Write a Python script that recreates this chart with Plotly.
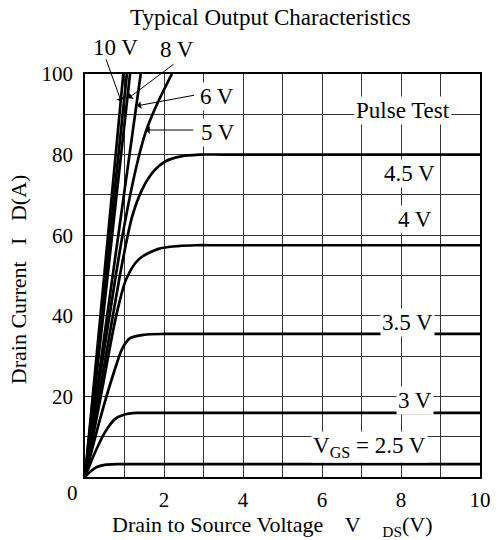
import plotly.graph_objects as go

# ---- data (V_DS in volts, I_D in amperes) ----
vgs_10_v = [0, 0.39, 0.97]
vgs_10_i = [0, 40, 100]
vgs_9_v = [0, 0.42, 1.06]
vgs_9_i = [0, 40, 100]
vgs_8_v = [0, 0.46, 1.14]
vgs_8_i = [0, 40, 100]
vgs_6_v = [0, 0.56, 1.41]
vgs_6_i = [0, 40, 100]
vgs_5_v = [0, 0.30, 0.62, 0.95, 1.30, 1.55, 1.80, 2.20]
vgs_5_i = [0, 20, 40, 60, 77, 86, 92, 100]
vgs_45_v = [0, 0.35, 0.70, 0.94, 1.19, 1.44, 1.75, 2.03, 2.40, 2.90, 3.5, 10]
vgs_45_i = [0, 20, 39.7, 53, 64.5, 71.2, 76, 78.3, 79.5, 80, 80, 80]
vgs_4_v = [0, 0.40, 0.79, 1.04, 1.36, 1.86, 2.36, 2.8, 3.4, 10]
vgs_4_i = [0, 20, 40, 49, 54, 56.6, 57.3, 57.5, 57.5, 57.5]
vgs_35_v = [0, 0.37, 0.70, 0.95, 1.15, 1.50, 2.0, 2.6, 10]
vgs_35_i = [0, 14, 25, 32, 34.5, 35.3, 35.5, 35.5, 35.5]
vgs_3_v = [0, 0.25, 0.50, 0.75, 1.0, 1.3, 1.8, 10]
vgs_3_i = [0, 6, 11, 14.3, 15.5, 15.9, 15.9, 15.9]
vgs_25_v = [0, 0.15, 0.30, 0.50, 0.80, 1.2, 10]
vgs_25_i = [0, 1.5, 2.5, 3.0, 3.2, 3.2, 3.2]

curves = [
    (vgs_10_v, vgs_10_i), (vgs_9_v, vgs_9_i), (vgs_8_v, vgs_8_i),
    (vgs_6_v, vgs_6_i), (vgs_5_v, vgs_5_i), (vgs_45_v, vgs_45_i),
    (vgs_4_v, vgs_4_i), (vgs_35_v, vgs_35_i), (vgs_3_v, vgs_3_i),
    (vgs_25_v, vgs_25_i),
]

x_ticks = [0, 1, 2, 3, 4, 5, 6, 7, 8, 9, 10]
x_tick_text = ["", "", "2", "", "4", "", "6", "", "8", "", "10"]
y_ticks = [0, 10, 20, 30, 40, 50, 60, 70, 80, 90, 100]
y_tick_text = ["", "", "20", "", "40", "", "60", "", "80", "", "100"]

# curve labels inside the plot: (text, V, I)
labels = [
    ("Pulse Test", 8.05, 91.0),
    ("4.5 V", 8.22, 75.3),
    ("4 V", 8.36, 63.9),
    ("3.5 V", 8.16, 38.4),
    ("3 V", 8.36, 19.1),
    ("V<sub>GS</sub> = 2.5 V", 7.2, 7.4),
    ("6 V", 3.33, 94.5),
    ("5 V", 3.37, 85.6),
]
# curve labels above the plot (paper fractions)
top_labels = [
    ("10 V", 0.076, 1.066),
    ("8 V", 0.234, 1.062),
]
# arrows: (head_V, head_I, tail_V, tail_I)
arrows = [
    (0.92, 93.1, 0.52, 104.0),
    (1.10, 94.0, 2.28, 102.7),
    (1.32, 92.1, 2.80, 94.8),
    (1.54, 86.1, 2.78, 86.1),
]

FONT = "Liberation Serif, Times New Roman, serif"

fig = go.Figure()
for vx, iy in curves:
    fig.add_trace(go.Scatter(
        x=vx, y=iy, mode="lines",
        line=dict(color="black", width=2.7, shape="spline", smoothing=0.8),
        showlegend=False, hoverinfo="skip"))

for text, x, y in labels:
    fig.add_annotation(x=x, y=y, xref="x", yref="y", text=text,
                       showarrow=False, bgcolor="white", borderpad=1,
                       xanchor="center", yanchor="middle",
                       font=dict(family=FONT, size=23, color="black"))

for text, x, y in top_labels:
    fig.add_annotation(x=x, y=y, xref="paper", yref="paper", text=text,
                       showarrow=False, xanchor="center", yanchor="middle",
                       font=dict(family=FONT, size=23, color="black"))

for hx, hy, tx, ty in arrows:
    fig.add_annotation(x=hx, y=hy, ax=tx, ay=ty, xref="x", yref="y",
                       axref="x", ayref="y", text="", showarrow=True,
                       arrowhead=1, arrowsize=1.3, arrowwidth=1,
                       arrowcolor="black")

# single shared origin label
fig.add_annotation(x=-0.032, y=-0.04, xref="paper", yref="paper", text="0",
                   showarrow=False, xanchor="center", yanchor="middle",
                   font=dict(family=FONT, size=21, color="black"))

fig.add_annotation(x=0.47, y=1.0, xref="paper", yref="paper", yshift=57,
                   xanchor="center", yanchor="middle",
                   text="Typical Output Characteristics", showarrow=False,
                   font=dict(family=FONT, size=23, color="black"))
fig.add_annotation(x=-0.168, y=0.49, xref="paper", yref="paper",
                   xanchor="center", yanchor="middle",
                   text="Drain Current   I   D(A)", textangle=-90,
                   showarrow=False,
                   font=dict(family=FONT, size=22, color="black"))
fig.add_annotation(x=0.475, y=0, xref="paper", yref="paper", yshift=-49,
                   xanchor="center", yanchor="middle",
                   text="Drain to Source Voltage    V    <sub>DS</sub>(V)",
                   showarrow=False,
                   font=dict(family=FONT, size=22, color="black"))

fig.update_layout(
    width=503, height=540,
    margin=dict(l=85, r=15, t=74, b=63),
    paper_bgcolor="white", plot_bgcolor="white",
    font=dict(family=FONT, size=21, color="black"),
    xaxis=dict(range=[0, 10], tickvals=x_ticks, ticktext=x_tick_text,
               showgrid=True, gridcolor="#333333", gridwidth=1,
               showline=True, linecolor="black", linewidth=1.5, mirror=True,
               ticks="", ticklabelstandoff=3, zeroline=False,
               fixedrange=True),
    yaxis=dict(range=[0, 100], tickvals=y_ticks, ticktext=y_tick_text,
               showgrid=True, gridcolor="#333333", gridwidth=1,
               showline=True, linecolor="black", linewidth=1.5, mirror=True,
               ticks="", ticklabelstandoff=6, zeroline=False,
               fixedrange=True),
)

fig.write_html("out.html")
